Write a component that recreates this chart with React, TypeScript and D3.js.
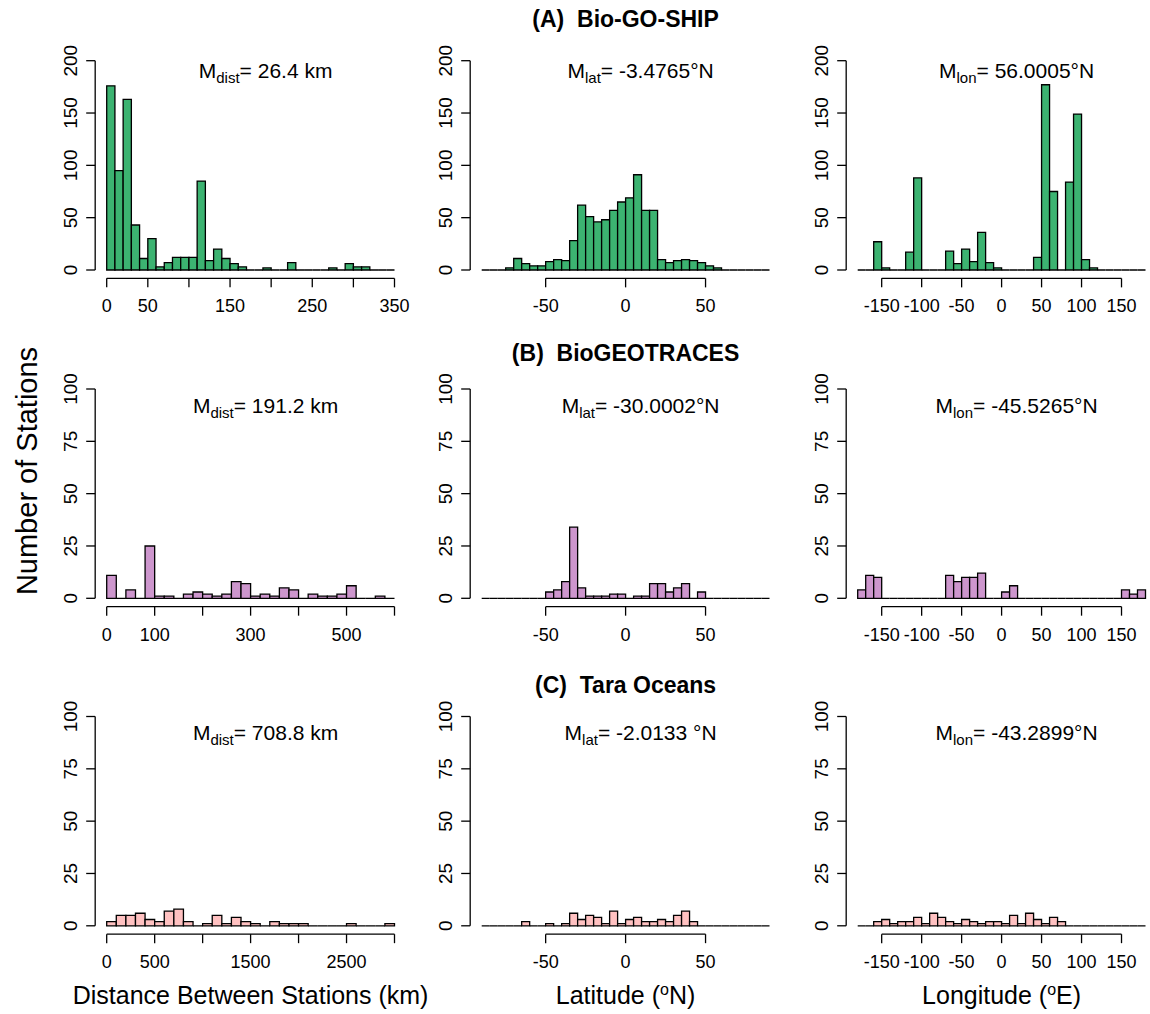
import React from 'react';
import * as d3 from 'd3';

// ---- data ----
const rowTitles = ['(A)\u00a0\u00a0Bio-GO-SHIP', '(B)\u00a0\u00a0BioGEOTRACES', '(C)\u00a0\u00a0Tara Oceans'];
const rowColors = ['#3CB371', '#CD96CD', '#FFC1C1'];

// Distance between stations (km)
const distA = [176, 95, 163, 43, 11, 30, 3, 7, 12, 12, 12, 85, 9, 20, 11, 6, 3, 0, 0, 2, 0, 0, 7, 0, 0, 0, 0, 2, 0, 6, 3, 3, 0, 0, 0];
const distB = [11, 0, 4, 0, 25, 1, 1, 0, 2, 3, 2, 1, 2, 8, 7, 1, 2, 1, 5, 4, 0, 2, 1, 1, 2, 6, 0, 0, 1, 0];
const distC = [2, 5, 5, 6, 3, 2, 7, 8, 2, 0, 1, 5, 1, 4, 2, 1, 0, 2, 1, 1, 1, 0, 0, 0, 0, 1, 0, 0, 0, 1];
const distBreaks = [[0, 350, 10], [0, 600, 20], [0, 3000, 100]];
const distTicks = [
  [0, 50, 100, 150, 200, 250, 300, 350],
  [0, 100, 200, 300, 400, 500, 600],
  [0, 500, 1000, 1500, 2000, 2500, 3000],
];
const distTickLabels = [
  ['0', '50', '', '150', '', '250', '', '350'],
  ['0', '100', '', '300', '', '500', ''],
  ['0', '500', '', '1500', '', '2500', ''],
];

// Latitude, bins of 5 from -90 to 90
const latA = [0, 0, 0, 2, 11, 6, 4, 4, 8, 10, 9, 28, 62, 51, 46, 48, 57, 65, 69, 91, 57, 57, 10, 7, 9, 10, 9, 7, 4, 2, 0, 0, 0, 0, 0, 0];
const latB = [0, 0, 0, 0, 0, 0, 0, 0, 3, 4, 8, 34, 5, 1, 1, 1, 2, 2, 0, 1, 1, 7, 7, 3, 5, 7, 0, 3, 0, 0, 0, 0, 0, 0, 0, 0];
const latC = [0, 0, 0, 0, 0, 2, 0, 0, 1, 0, 1, 6, 3, 5, 4, 1, 7, 1, 3, 4, 2, 2, 3, 2, 5, 7, 2, 0, 0, 0, 0, 0, 0, 0, 0, 0];
const latBreaks = [-90, 90, 5];
const latTicks = [-50, 0, 50];

// Longitude, bins of 10 from -180 to 180
const lonA = [0, 0, 27, 2, 0, 0, 17, 88, 0, 0, 0, 18, 6, 20, 8, 36, 7, 2, 0, 0, 0, 0, 12, 177, 75, 0, 84, 149, 10, 2, 0, 0, 0, 0, 0, 0];
const lonB = [4, 11, 10, 0, 0, 0, 0, 0, 0, 0, 0, 11, 8, 10, 10, 12, 0, 0, 3, 6, 0, 0, 0, 0, 0, 0, 0, 0, 0, 0, 0, 0, 0, 4, 2, 4];
const lonC = [0, 0, 2, 3, 1, 2, 2, 4, 1, 6, 4, 2, 1, 3, 2, 1, 2, 2, 1, 5, 1, 6, 3, 1, 4, 2, 0, 0, 0, 0, 0, 0, 0, 0, 0, 0];
const lonBreaks = [-180, 180, 10];
const lonTicks = [-150, -100, -50, 0, 50, 100, 150];

const yMaxes = [200, 100, 100];
const yTicksByRow = [
  [0, 50, 100, 150, 200],
  [0, 25, 50, 75, 100],
  [0, 25, 50, 75, 100],
];

// annotation: [subscript, rest]
const notes = [
  [['dist', '= 26.4 km'], ['lat', '= -3.4765°N'], ['lon', '= 56.0005°N']],
  [['dist', '= 191.2 km'], ['lat', '= -30.0002°N'], ['lon', '= -45.5265°N']],
  [['dist', '= 708.8 km'], ['lat', '= -2.0133 °N'], ['lon', '= -43.2899°N']],
];

// ---- layout ----
const W = 1150, H = 1014;
const FONT = '"Liberation Sans", Arial, Helvetica, sans-serif';
const colLeft = [106.7, 481.7, 857.7];
const dataW = 287.8;
const rowZero = [270, 598.3, 925.8];
const dataH = 209.3;
const noteOffset = [17.6, 23.5, 23.5];
const TICK_FS = 18;

const Panel = ({ counts, breaks, ticks, tickLabels, yMax, yTicks, fill, left, zero, note, noteDy }) => {
  const [b0, b1, step] = breaks;
  const x = d3.scaleLinear().domain([b0, b1]).range([left, left + dataW]);
  const y = d3.scaleLinear().domain([0, yMax]).range([zero, zero - dataH]);
  const edges = d3.range(counts.length + 1).map(i => b0 + i * step);
  const regLeft = left - 0.04 * dataW;
  const regBottom = zero + 0.04 * dataH;
  const cx = regLeft + (dataW * 1.08) / 2 + 15;

  // paths so that empty bins still show as a line on the baseline, like R's hist()
  const barPath = (i, c) => {
    const p = d3.path();
    p.moveTo(x(edges[i]), y(0));
    p.lineTo(x(edges[i]), y(c));
    p.lineTo(x(edges[i + 1]), y(c));
    p.lineTo(x(edges[i + 1]), y(0));
    p.closePath();
    return p.toString();
  };

  return (
    <g>
      {counts.map((c, i) => (
        <path key={i} d={barPath(i, c)} fill={fill} stroke="#000" strokeWidth={1.3} />
      ))}
      {/* y axis */}
      <line x1={regLeft} x2={regLeft} y1={y(0)} y2={y(yMax)} stroke="#000" strokeWidth={1.3} />
      {yTicks.map(t => (
        <g key={t}>
          <line x1={regLeft - 9} x2={regLeft} y1={y(t)} y2={y(t)} stroke="#000" strokeWidth={1.3} />
          <text transform={`translate(${regLeft - 18},${y(t)}) rotate(-90)`} textAnchor="middle"
            fontSize={TICK_FS + 1} fontFamily={FONT}>{t}</text>
        </g>
      ))}
      {/* x axis */}
      <line x1={x(ticks[0])} x2={x(ticks[ticks.length - 1])} y1={regBottom} y2={regBottom} stroke="#000" strokeWidth={1.3} />
      {ticks.map((t, i) => (
        <g key={t}>
          <line x1={x(t)} x2={x(t)} y1={regBottom} y2={regBottom + 9} stroke="#000" strokeWidth={1.3} />
          <text x={x(t)} y={regBottom + 34} textAnchor="middle" fontSize={TICK_FS} fontFamily={FONT}>{tickLabels[i]}</text>
        </g>
      ))}
      <text x={cx} y={y(yMax) + noteDy} textAnchor="middle" fontSize={21} fontFamily={FONT}>
        M<tspan fontSize={15} dy={5}>{note[0]}</tspan><tspan dy={-5}>{note[1]}</tspan>
      </text>
    </g>
  );
};

const App = () => {
  const rows = [
    [distA, latA, lonA],
    [distB, latB, lonB],
    [distC, latC, lonC],
  ];
  const centers = colLeft.map(l => l - 0.04 * dataW + (dataW * 1.08) / 2);
  return (
    <svg width={W} height={H} style={{ position: 'absolute', left: 0, top: 0, background: '#fff' }}>
      <rect width={W} height={H} fill="#fff" />
      {rows.map((row, r) => (
        <g key={r}>
          {row.map((counts, c) => {
            const breaks = c === 0 ? distBreaks[r] : c === 1 ? latBreaks : lonBreaks;
            const ticks = c === 0 ? distTicks[r] : c === 1 ? latTicks : lonTicks;
            const labels = c === 0 ? distTickLabels[r] : ticks.map(String);
            return (
              <Panel key={c} counts={counts} breaks={breaks} ticks={ticks} tickLabels={labels}
                yMax={yMaxes[r]} yTicks={yTicksByRow[r]} fill={rowColors[r]}
                left={colLeft[c]} zero={rowZero[r]} note={notes[r][c]} noteDy={noteOffset[r]} />
            );
          })}
          <text x={centers[1]} y={[26.5, 360.5, 692.5][r]} textAnchor="middle" fontSize={23} fontWeight="bold"
            fontFamily={FONT}>{rowTitles[r]}</text>
        </g>
      ))}
      <text transform="translate(37,471) rotate(-90)" textAnchor="middle" fontSize={29} fontFamily={FONT}>
        Number of Stations
      </text>
      <text x={centers[0]} y={1004} textAnchor="middle" fontSize={25} fontFamily={FONT}>Distance Between Stations (km)</text>
      <text x={centers[1]} y={1004} textAnchor="middle" fontSize={25} fontFamily={FONT}>
        Latitude (<tspan fontSize={16} dy={-9}>o</tspan><tspan dy={9}>N)</tspan>
      </text>
      <text x={centers[2]} y={1004} textAnchor="middle" fontSize={25} fontFamily={FONT}>
        Longitude (<tspan fontSize={16} dy={-9}>o</tspan><tspan dy={9}>E)</tspan>
      </text>
    </svg>
  );
};

export default App;
